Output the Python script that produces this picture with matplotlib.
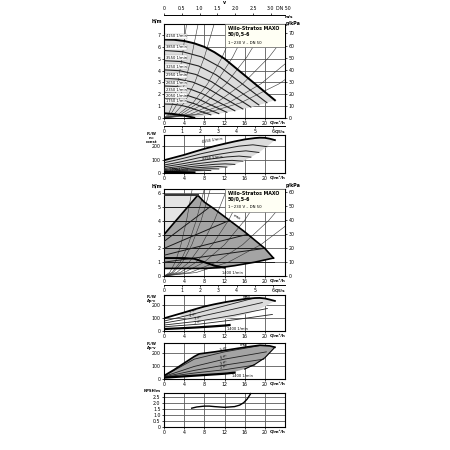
import matplotlib
matplotlib.use('Agg')
import matplotlib.pyplot as plt
import numpy as np
from matplotlib.patches import Polygon, Rectangle

plt.rcParams['font.family'] = ['Liberation Sans Narrow', 'DejaVu Sans']
FS = 3.4

# ---------------- data ----------------
q_ticks = [0, 4, 8, 12, 16, 20]
ls_ticks = [0, 1, 2, 3, 4, 5, 6]
v_ticks = [0, 0.5, 1.0, 1.5, 2.0, 2.5, 3.0]
v_labels = ['0', '0.5', '1.0', '1.5', '2.0', '2.5', '3.0']

# panel 1: H-Q, constant speed
max_q = [0, 2, 4, 6, 8, 10, 12, 14, 16, 18, 20, 22]
max_h = [6.62, 6.6, 6.5, 6.3, 6.0, 5.55, 5.0, 4.3, 3.6, 2.9, 2.2, 1.5]
speeds = [3850, 3550, 3250, 2950, 2650, 2350, 2050, 1750]
speed_q = [[0, 3.71, 7.42, 11.13, 14.84, 17.63, 20.41],
           [0, 3.42, 6.84, 10.26, 13.69, 16.25, 18.82],
           [0, 3.13, 6.26, 9.40, 12.53, 14.88, 17.23],
           [0, 2.84, 5.69, 8.53, 11.37, 13.51, 15.64],
           [0, 2.55, 5.11, 7.66, 10.22, 12.13, 14.05],
           [0, 2.27, 4.53, 6.80, 9.06, 10.76, 12.46],
           [0, 1.98, 3.95, 5.93, 7.90, 9.39, 10.87],
           [0, 1.69, 3.37, 5.06, 6.75, 8.01, 9.28]]
speed_h = [[5.70, 5.59, 5.16, 4.30, 3.10, 2.19, 1.29],
           [4.84, 4.76, 4.39, 3.66, 2.63, 1.87, 1.10],
           [4.06, 3.99, 3.68, 3.07, 2.21, 1.56, 0.92],
           [3.35, 3.28, 3.03, 2.53, 1.82, 1.29, 0.76],
           [2.70, 2.65, 2.45, 2.04, 1.47, 1.04, 0.61],
           [2.12, 2.08, 1.92, 1.60, 1.15, 0.82, 0.48],
           [1.62, 1.59, 1.46, 1.22, 0.88, 0.62, 0.37],
           [1.18, 1.16, 1.07, 0.89, 0.64, 0.45, 0.27]]
min_q = [0, 2, 4, 6]
min_h = [0.4, 0.33, 0.2, 0.02]
sys_q_end = [4.5, 6.8, 10, 14.4, 17, 20.5, 26, 32, 38]   # Q where system curve reaches 8 m
sys_shape_q = [0, 0.2, 0.4, 0.6, 0.8, 1.0]
sys_shape_h = [0, 0.04, 0.16, 0.36, 0.64, 1.0]

# panel 2: P1, constant speed
maxp_q = [0, 2, 4, 6, 8, 10, 12, 14, 16, 18, 19, 20, 21, 22]
maxp_p = [95, 115, 135, 158, 180, 200, 218, 235, 250, 260, 263, 262, 255, 245]
speed_p = [[76, 108, 144, 174, 200, 210, 196],
           [59, 84, 113, 136, 156, 165, 153],
           [46, 65, 86, 105, 120, 126, 118],
           [34, 48, 65, 78, 90, 94, 88],
           [25, 35, 47, 57, 65, 68, 64],
           [17, 25, 33, 40, 45, 48, 44],
           [11, 16, 22, 26, 30, 32, 30],
           [7, 10, 14, 16, 19, 20, 18]]
minp_q = [0, 2, 4, 6]
minp_p = [5, 5, 4, 3]

# panel 3: H-Q, dp-c / dp-v
c_max_q = [6.7, 8, 10, 12, 14, 16, 18, 20, 21.7]
c_max_h = [5.85, 5.35, 4.85, 4.3, 3.75, 3.2, 2.6, 2.0, 1.3]
c_low_q = [21.7, 18, 14, 11, 8, 0]
c_low_h = [1.3, 1.0, 0.75, 0.6, 0.55, 0.55]
c_min_q = [0, 4, 6, 8, 10, 12]
c_min_h = [1.3, 1.3, 1.25, 1.0, 0.75, 0.6]
c_set = [1, 2, 3, 4, 5]
c_set_qend = [21.9, 20.0, 16.4, 12.8, 9.1]
v_set_qend = [20.0, 16.4, 12.8, 9.1]
v_set_h = [2, 3, 4, 5]
sys3_q_end = [5.6, 8, 9.2, 12.5, 16, 20, 26, 32]       # Q where system curve reaches 6.3 m

# panel 4: P1, dp-c
p4_max_q = [0, 2, 4, 6, 8, 10, 12, 14, 16, 18, 19, 20, 21, 22]
p4_max_p = [96, 118, 140, 163, 185, 202, 217, 230, 242, 249, 250, 246, 237, 227]
p4_low_q = [22, 20, 17, 13, 9, 5, 3]
p4_low_p = [227, 185, 135, 95, 75, 80, 125]
p4_set_q = [[0, 6, 12, 17.5], [0, 6, 12, 19.5], [0, 7, 14, 20.5], [0, 7, 14, 21.5]]
p4_set_p = [[75, 130, 190, 245], [60, 100, 150, 215], [45, 75, 120, 170], [32, 52, 85, 125]]
p4_set_lab = ['5 m', '4 m', '3 m', '2 m']
p4_min_q = [0, 3, 6, 9, 12, 13]
p4_min_p = [15, 20, 26, 33, 41, 45]

# panel 5: P1, dp-v
p5_up_q = [0, 2, 4, 6, 7, 10, 13, 16, 19, 21, 22]
p5_up_p = [25, 70, 120, 170, 190, 205, 222, 240, 255, 250, 240]
p5_low_q = [22, 21, 20, 18, 16, 14, 12, 8, 4, 0]
p5_low_p = [240, 200, 160, 110, 75, 55, 45, 30, 20, 12]
p5_set_q = [[0, 6, 12, 19], [0, 6, 12, 20.3], [0, 6, 12, 19.8], [0, 6, 12, 18]]
p5_set_p = [[22, 150, 205, 252], [19, 95, 150, 205], [16, 65, 105, 150], [14, 45, 70, 105]]
p5_set_lab = ['5 m', '4 m', '3 m', '2 m']
p5_min_q = [0, 4, 8, 12, 14]
p5_min_p = [10, 20, 30, 40, 48]

# panel 6: NPSH
npsh_q = [5.5, 6.5, 8, 9, 10, 12, 14, 15, 15.8, 16.5, 17.2]
npsh_h = [1.55, 1.65, 1.72, 1.72, 1.68, 1.62, 1.68, 1.8, 2.0, 2.3, 2.75]

# ---------------- figure ----------------
fig = plt.figure(figsize=(4.5, 4.5), dpi=100)
PX = 450.0
L, W = 164 / PX, 121 / PX
GRID = '#5a5a5a'
LGRAY = '#dcdcdc'
DGRAY = '#a4a4a4'
QFS = 3.0


def panel(top, bottom, ylim, yticks, ylabels=None):
    ax = fig.add_axes([L, 1 - bottom / PX, W, (bottom - top) / PX])
    ax.set_xlim(0, 24)
    ax.set_ylim(*ylim)
    ax.set_xticks(q_ticks)
    ax.set_yticks(yticks)
    if ylabels is not None:
        ax.set_yticklabels(ylabels)
    ax.grid(True, color=GRID, lw=0.6)
    ax.set_axisbelow(True)
    ax.tick_params(labelsize=FS, length=1.5, width=0.5, pad=1)
    for s in ax.spines.values():
        s.set_lw(0.8)
    ax.annotate('Q/m³/h', xy=(1, 0), xycoords='axes fraction', xytext=(0.5, -2.2),
                textcoords='offset points', ha='right', va='top', fontsize=QFS,
                fontweight='bold')
    return ax


def right_axis(ax, ylim, ticks):
    a2 = ax.twinx()
    a2.set_ylim(ylim)
    a2.set_yticks(ticks)
    a2.tick_params(labelsize=FS, length=1.5, width=0.5, pad=1)
    for s in a2.spines.values():
        s.set_visible(False)
    return a2


def ls_axis(y):
    a = fig.add_axes([L, 1 - y / PX, W, 0.0001])
    a.set_xlim(0, 24 / 3.6)
    a.set_xticks(ls_ticks)
    a.set_yticks([])
    for k in ['left', 'right', 'top']:
        a.spines[k].set_visible(False)
    a.spines['bottom'].set_lw(0.7)
    a.tick_params(labelsize=FS, length=1.5, width=0.5, pad=1)
    a.annotate('Q/l/s', xy=(1, 0), xycoords='axes fraction', xytext=(0.5, -2.2),
               textcoords='offset points', ha='right', va='top', fontsize=QFS,
               fontweight='bold')
    return a


def info_box(ax, h):
    ax.add_patch(Rectangle((0.5, 1 - h), 0.5, h, transform=ax.transAxes,
                           fc='#fffff4', ec='#777777', lw=0.5, zorder=6))
    ax.text(0.53, 0.975, 'Wilo-Stratos MAXO\n50/0,5-6', transform=ax.transAxes,
            ha='left', va='top', fontsize=3.4, fontweight='bold', zorder=7,
            linespacing=1.1)
    ax.text(0.53, 1 - h * 0.72, '1~230 V – DN 50', transform=ax.transAxes,
            ha='left', va='top', fontsize=2.8, zorder=7)


# top velocity axis
av = fig.add_axes([L, 1 - 15 / PX, W, 0.0001])
av.set_xlim(0, 24 / 7.0686)
av.set_xticks(v_ticks)
av.set_xticklabels(v_labels)
av.set_yticks([])
av.xaxis.tick_top()
for k in ['left', 'right', 'bottom']:
    av.spines[k].set_visible(False)
av.spines['top'].set_lw(0.7)
av.tick_params(labelsize=FS, length=1.5, width=0.5, pad=1)
fig.text(276 / PX, 1 - 8.5 / PX, 'DN 50', fontsize=FS, ha='left', va='center')
fig.text(285 / PX, 1 - 17 / PX, 'm/s', fontsize=QFS, ha='left', va='center',
         fontweight='bold')
fig.text((164 + 60) / PX, 1 - 3 / PX, 'v', fontsize=FS, ha='center', va='center',
         fontweight='bold')

# ---------- panel 1 ----------
ax1 = panel(24, 118, (0, 7.93), range(0, 8))
poly = list(zip(max_q, max_h)) + [(q[-1], h[-1]) for q, h in zip(speed_q, speed_h)] \
    + list(zip(min_q[::-1], min_h[::-1]))
ax1.add_patch(Polygon(poly, closed=True, fc=LGRAY, ec='none', zorder=1))
for qe in sys_q_end:
    ax1.plot([s * qe for s in sys_shape_q], [s * 8 for s in sys_shape_h],
             color='#333333', lw=0.4, zorder=2)
for n, q, h in zip(speeds, speed_q, speed_h):
    ax1.plot(q, h, color='#222222', lw=0.8, zorder=3)
    ax1.text(0.3, h[0] + 0.08, f'{n} 1/min', fontsize=2.6, va='bottom', ha='left',
             zorder=4, bbox=dict(fc='white', ec='#888888', lw=0.2, pad=0.3))
ax1.plot(max_q, max_h, color='black', lw=1.4, zorder=4)
ax1.text(0.3, max_h[0] + 0.1, '4150 1/min', fontsize=2.6, va='bottom', ha='left',
         zorder=4, bbox=dict(fc='white', ec='#888888', lw=0.2, pad=0.3))
ax1.plot(min_q, min_h, color='black', lw=1.4, zorder=4)
ax1.set_xticklabels([str(t) for t in q_ticks])
right_axis(ax1, (0, 7.93 * 9.81), range(0, 80, 10))
info_box(ax1, 0.245)
fig.text(157 / PX, 1 - 21 / PX, 'H/m', fontsize=FS, ha='center', va='center',
         fontweight='bold')
fig.text(293 / PX, 1 - 24 / PX, 'p/kPa', fontsize=FS, ha='center', va='center',
         fontweight='bold')
ls_axis(126)

# ---------- panel 2 ----------
ax2 = panel(135, 173, (0, 283), [0, 100, 200])
poly = list(zip(maxp_q, maxp_p)) + [(q[-1], p[-1]) for q, p in zip(speed_q, speed_p)] \
    + list(zip(minp_q[::-1], minp_p[::-1]))
ax2.add_patch(Polygon(poly, closed=True, fc=LGRAY, ec='none', zorder=1))
for q, p in zip(speed_q, speed_p):
    ax2.plot(q, p, color='#222222', lw=0.7, zorder=3)
ax2.plot(maxp_q, maxp_p, color='black', lw=1.3, zorder=4)
ax2.plot(minp_q, minp_p, color='black', lw=1.8, zorder=4)
ax2.text(9.5, 226, '4150 1/min', fontsize=2.6, rotation=9, zorder=5, ha='center')
ax2.text(9.5, 100, '3250 1/min', fontsize=2.6, rotation=6, zorder=5, ha='center')
ax2.text(1.0, 12, '1400 1/min', fontsize=2.4, rotation=0, zorder=5)
fig.text(152 / PX, 1 - 138 / PX, 'P₁/W\nn=\nconst', fontsize=2.7, ha='center',
         va='center', fontweight='bold', linespacing=0.9)

# ---------- panel 3 ----------
ax3 = panel(189, 276, (0, 6.3), range(0, 7))
ax3.add_patch(Polygon([(0, 3), (0, 5.85), (6.7, 5.85)], closed=True, fc='#e4e4e4',
                      ec='none', zorder=1))
poly3 = [(0, 3)] + list(zip(c_max_q, c_max_h)) + list(zip(c_low_q, c_low_h))
ax3.add_patch(Polygon(poly3, closed=True, fc=DGRAY, ec='none', zorder=1))
for qe in sys3_q_end:
    ax3.plot([s * qe for s in sys_shape_q], [s * 6.3 for s in sys_shape_h],
             color='#333333', lw=0.4, zorder=2)
for hs, qe in zip(c_set, c_set_qend):
    ax3.plot([0, qe], [hs, hs], color='#1a1a1a', lw=0.7, zorder=3)
for hs, qe in zip(v_set_h, v_set_qend):
    ax3.plot([0, qe], [hs / 2, hs], color='#1a1a1a', lw=0.7, zorder=3)
ax3.plot([0] + c_max_q, [3] + c_max_h, color='black', lw=1.2, zorder=4)
ax3.plot([0, 6.7], [5.85, 5.85], color='#333333', lw=1.4, zorder=4)
ax3.plot(c_min_q, c_min_h, color='black', lw=1.4, zorder=4)
ax3.plot(c_low_q, c_low_h, color='black', lw=1.2, zorder=4)
ax3.text(11.5, 0.12, '1400 1/min', fontsize=2.6, zorder=5)
ax3.text(13.5, 4.1, 'max', fontsize=2.6, rotation=-30, zorder=5)
ax3.set_xticklabels([str(t) for t in q_ticks])
right_axis(ax3, (0, 6.3 * 9.81), range(0, 70, 10))
info_box(ax3, 0.26)
fig.text(157 / PX, 1 - 186 / PX, 'H/m', fontsize=FS, ha='center', va='center',
         fontweight='bold')
fig.text(293 / PX, 1 - 186 / PX, 'p/kPa', fontsize=FS, ha='center', va='center',
         fontweight='bold')
ls_axis(285)

# ---------- panel 4 ----------
ax4 = panel(295, 331, (0, 272), [0, 100, 200])
poly4 = list(zip(p4_max_q[2:], p4_max_p[2:])) + list(zip(p4_low_q, p4_low_p))
ax4.add_patch(Polygon(poly4, closed=True, fc=LGRAY, ec='none', zorder=1))
for q, p, lab in zip(p4_set_q, p4_set_p, p4_set_lab):
    ax4.plot(q, p, color='#222222', lw=0.6, zorder=3)
    ax4.text(q[1] - 1, p[1] + 5, lab, fontsize=2.4, rotation=20, zorder=5)
ax4.plot(p4_max_q, p4_max_p, color='black', lw=1.3, zorder=4)
ax4.plot(p4_min_q, p4_min_p, color='black', lw=1.6, zorder=4)
ax4.text(15.5, 250, 'max', fontsize=2.6, zorder=5)
ax4.text(12.5, 8, '1400 1/min', fontsize=2.6, zorder=5)
fig.text(152 / PX, 1 - 299 / PX, 'P₁/W\nΔp-c', fontsize=2.7, ha='center',
         va='center', fontweight='bold', linespacing=0.9)

# ---------- panel 5 ----------
ax5 = panel(343, 379, (0, 272), [0, 100, 200])
poly5 = list(zip(p5_up_q, p5_up_p)) + list(zip(p5_low_q, p5_low_p))
ax5.add_patch(Polygon(poly5, closed=True, fc=DGRAY, ec='none', zorder=1))
for q, p, lab in zip(p5_set_q, p5_set_p, p5_set_lab):
    ax5.plot(q, p, color='#222222', lw=0.6, zorder=3)
    ax5.text(q[2] - 1, p[2] + 5, lab, fontsize=2.4, rotation=25, zorder=5)
ax5.plot(p5_up_q, p5_up_p, color='black', lw=1.2, zorder=4)
ax5.plot(p5_low_q[:5], p5_low_p[:5], color='black', lw=0.8, zorder=4)
ax5.plot(p5_min_q, p5_min_p, color='black', lw=1.6, zorder=4)
ax5.text(15.0, 250, 'max', fontsize=2.6, zorder=5)
ax5.text(13.5, 12, '1400 1/min', fontsize=2.6, zorder=5)
fig.text(152 / PX, 1 - 346 / PX, 'P₁/W\nΔp-v', fontsize=2.7, ha='center',
         va='center', fontweight='bold', linespacing=0.9)

# ---------- panel 6 ----------
ax6 = panel(393, 427, (0, 2.8), [0, 0.5, 1.0, 1.5, 2.0, 2.5],
            ['0', '0.5', '1.0', '1.5', '2.0', '2.5'])
ax6.plot(npsh_q, npsh_h, color='black', lw=1.0, zorder=4, clip_on=False)
fig.text(152 / PX, 1 - 391 / PX, 'NPSH/m', fontsize=2.7, ha='center', va='center',
         fontweight='bold')

fig.savefig('out.png', dpi=100)
